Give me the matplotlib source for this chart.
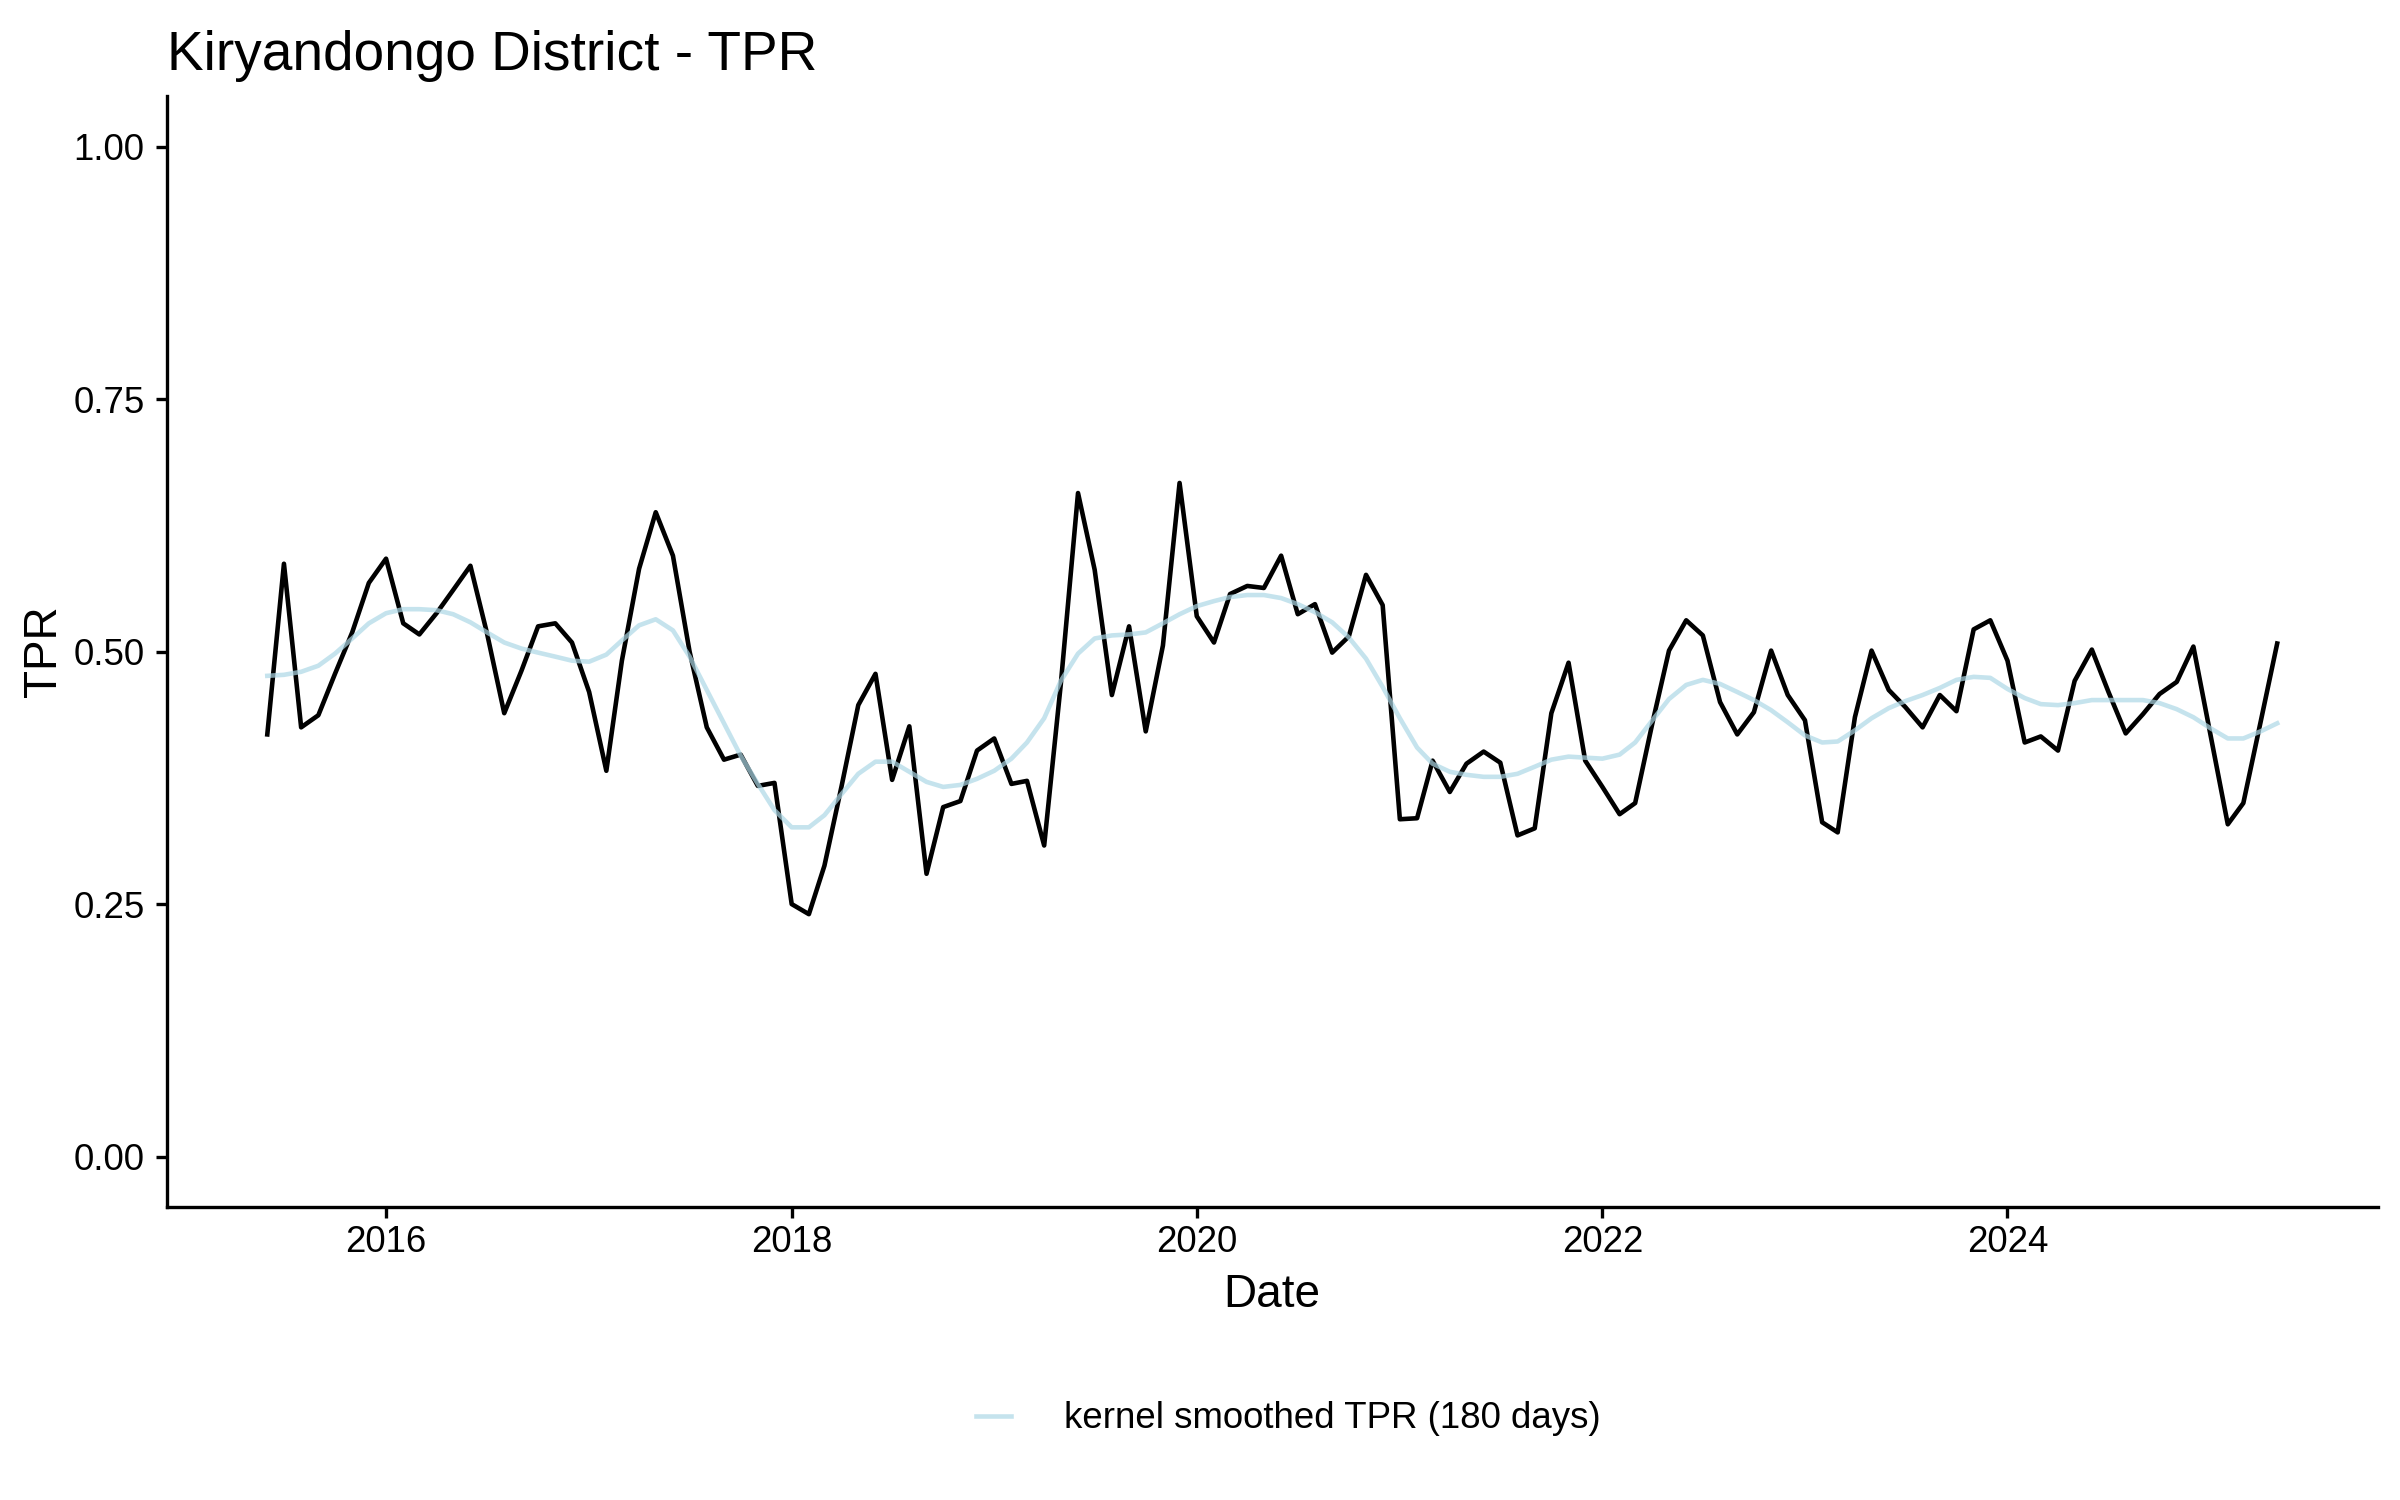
import pandas as pd
import numpy as np
import matplotlib
matplotlib.use('Agg')
import matplotlib.pyplot as plt
import matplotlib.dates as mdates
from matplotlib.ticker import FixedLocator, FormatStrFormatter

# monthly series, June 2015 .. May 2025
start_month = '2015-06-01'
n_months = 120

tpr = [
    0.418, 0.587, 0.425, 0.437, 0.478, 0.519, 0.568, 0.592, 0.528, 0.517,
    0.538, 0.561, 0.585, 0.518, 0.439, 0.481, 0.525, 0.528, 0.509, 0.460,
    0.382, 0.491, 0.582, 0.638, 0.595, 0.500, 0.425, 0.393, 0.398, 0.367,
    0.370, 0.250, 0.240, 0.288, 0.367, 0.447, 0.478, 0.373, 0.426, 0.280,
    0.346, 0.352, 0.402, 0.414, 0.369, 0.372, 0.308, 0.468, 0.657, 0.581,
    0.457, 0.525, 0.421, 0.506, 0.667, 0.535, 0.509, 0.557, 0.565, 0.563,
    0.595, 0.537, 0.547, 0.499, 0.515, 0.576, 0.546, 0.334, 0.335, 0.392,
    0.361, 0.389, 0.401, 0.390, 0.318, 0.325, 0.439, 0.489, 0.392, 0.366,
    0.339, 0.350, 0.429, 0.501, 0.531, 0.516, 0.450, 0.418, 0.440, 0.501,
    0.457, 0.432, 0.331, 0.321, 0.435, 0.501, 0.462, 0.445, 0.425, 0.457,
    0.441, 0.522, 0.531, 0.491, 0.410, 0.416, 0.402, 0.471, 0.502, 0.460,
    0.419, 0.438, 0.458, 0.470, 0.505, 0.417, 0.329, 0.350, 0.430, 0.508,
]

tpr_smooth = [
    0.476, 0.477, 0.480, 0.486, 0.498, 0.513, 0.528, 0.538, 0.542, 0.542,
    0.541, 0.537, 0.529, 0.519, 0.509, 0.503, 0.499, 0.495, 0.491, 0.490,
    0.497, 0.511, 0.526, 0.532, 0.521, 0.495, 0.462, 0.429, 0.397, 0.369,
    0.343, 0.326, 0.326, 0.338, 0.359, 0.379, 0.391, 0.391, 0.381, 0.371,
    0.366, 0.368, 0.374, 0.382, 0.394, 0.410, 0.434, 0.471, 0.498, 0.513,
    0.516, 0.517, 0.519, 0.528, 0.537, 0.545, 0.550, 0.554, 0.556, 0.556,
    0.553, 0.547, 0.539, 0.529, 0.514, 0.493, 0.465, 0.434, 0.405, 0.389,
    0.381, 0.378, 0.376, 0.376, 0.379, 0.386, 0.393, 0.396, 0.395, 0.394,
    0.398, 0.410, 0.432, 0.453, 0.467, 0.472, 0.468, 0.460, 0.452, 0.442,
    0.430, 0.417, 0.410, 0.411, 0.422, 0.434, 0.444, 0.451, 0.457, 0.464,
    0.472, 0.475, 0.474, 0.463, 0.454, 0.448, 0.447, 0.449, 0.452, 0.452,
    0.452, 0.452, 0.449, 0.443, 0.435, 0.424, 0.414, 0.414, 0.421, 0.429,
]

x_tick_years = [2016, 2018, 2020, 2022, 2024]
y_ticks = [0.00, 0.25, 0.50, 0.75, 1.00]

title = 'Kiryandongo District - TPR'
legend_label = 'kernel smoothed TPR (180 days)'


def main():
    dates = pd.date_range(start_month, periods=n_months, freq='MS')

    plt.rcParams['font.family'] = ['Liberation Sans', 'DejaVu Sans']

    fig = plt.figure(figsize=(8, 5), dpi=300, facecolor='white')
    ax = fig.add_axes([0.0695, 0.1953, 0.9212, 0.7406])

    ax.plot(dates, tpr, color='black', linewidth=1.1, zorder=2)
    smooth_line, = ax.plot(dates, tpr_smooth, color='lightblue', alpha=0.7,
                           linewidth=1.1, zorder=3, label=legend_label)

    # ggplot-like 5% expansion
    span = dates[-1] - dates[0]
    ax.set_xlim(dates[0] - span * 0.05, dates[-1] + span * 0.05)
    ax.set_ylim(-0.05, 1.05)

    ax.xaxis.set_major_locator(FixedLocator(
        [mdates.date2num(pd.Timestamp(f'{y}-01-01')) for y in x_tick_years]))
    ax.xaxis.set_major_formatter(mdates.DateFormatter('%Y'))
    ax.yaxis.set_major_locator(FixedLocator(y_ticks))
    ax.yaxis.set_major_formatter(FormatStrFormatter('%.2f'))

    for side in ['top', 'right']:
        ax.spines[side].set_visible(False)
    for side in ['left', 'bottom']:
        ax.spines[side].set_linewidth(0.8)
        ax.spines[side].set_color('black')
    ax.tick_params(axis='both', direction='out', length=2.75, width=0.8,
                   colors='black', labelsize=8.8)
    ax.tick_params(axis='y', pad=2.6)
    ax.tick_params(axis='x', pad=1.5)

    ax.set_xlabel('Date', fontsize=11, labelpad=3.2)
    ax.set_ylabel('TPR', fontsize=11, labelpad=1.8)

    fig.text(0.0695, 0.953, title, fontsize=13.2, ha='left', va='baseline')

    fig.legend(handles=[smooth_line], loc='center', bbox_to_anchor=(0.5367, 0.054),
               frameon=False, fontsize=8.8, handlelength=0.95, handletextpad=1.45,
               borderpad=0, borderaxespad=0)

    fig.savefig('out.png', dpi=300, facecolor='white')
    plt.close(fig)


if __name__ == '__main__':
    main()
